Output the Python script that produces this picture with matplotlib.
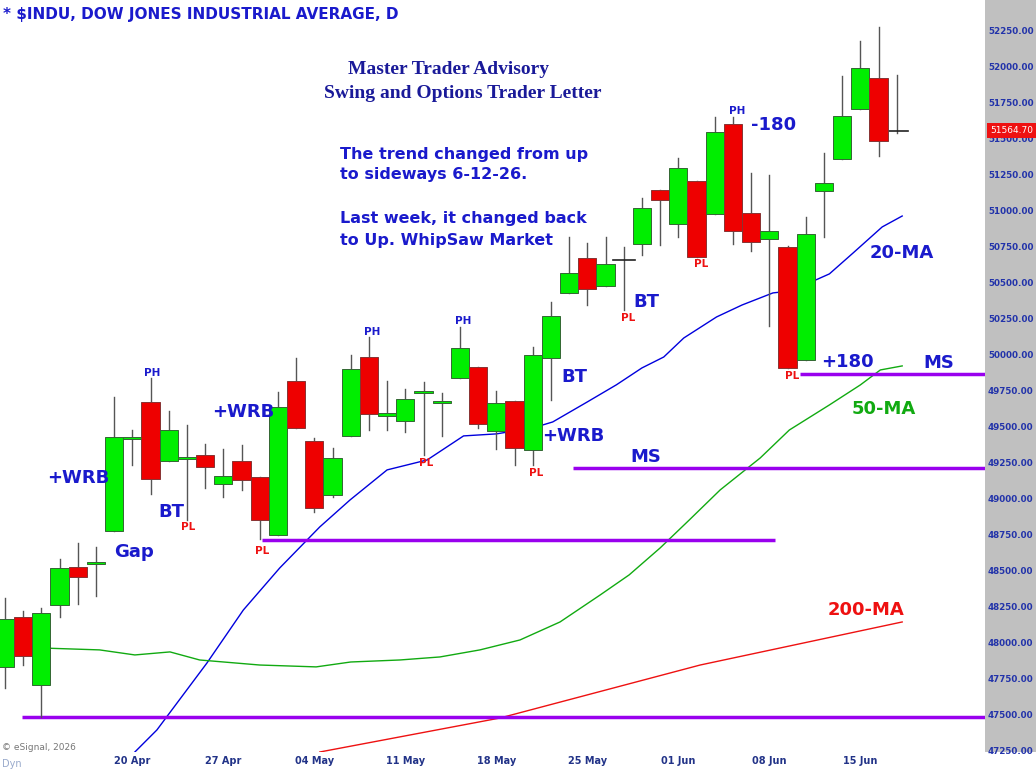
import matplotlib
matplotlib.use("Agg")
import matplotlib.pyplot as plt
from matplotlib.patches import Rectangle

W, H = 1036, 771

# OHLC, one row per trading day (index 0 = 09 Apr)
opens = [47840, 48188, 47716, 48271, 48535, 48556, 48785, 49424, 49681, 49271,
         49285, 49313, 49111, 49271, 49160, 48757, 49827, 49410, 49035, 49445,
         49993, 49584, 49549, 49743, 49674, 49847, 49924, 49479, 49688, 49347,
         49986, 50438, 50681, 50486, 50660, 50778, 51153, 50917, 51215, 50986,
         51611, 50993, 50813, 50757, 49972, 51146, 51368, 51715, 51931, 51565]
highs = [48320, 48229, 48250, 48590, 48702, 48674, 49715, 49486, 49847, 49618,
         49521, 49389, 49354, 49382, 49160, 49750, 49986, 49431, 49361, 50007,
         50132, 49827, 49771, 49820, 49743, 50201, 49924, 49757, 49688, 50063,
         50375, 50827, 50785, 50827, 50757, 51097, 51153, 51375, 51215, 51660,
         51660, 51271, 51257, 50764, 50965, 51410, 51944, 52188, 52285, 51951]
lows = [47695, 47854, 47493, 48188, 48278, 48334, 48785, 49243, 49042, 49271,
        48861, 49084, 49021, 49070, 48729, 48757, 49500, 48917, 49021, 49445,
        49486, 49486, 49472, 49313, 49445, 49847, 49500, 49354, 49243, 49243,
        49695, 50438, 50354, 50486, 50320, 50702, 50771, 50827, 50688, 50986,
        50778, 50729, 50209, 49917, 49972, 50827, 51368, 51715, 51389, 51549]
closes = [48174, 47917, 48215, 48528, 48466, 48570, 49438, 49438, 49146, 49486,
          49299, 49229, 49167, 49139, 48861, 49646, 49500, 48945, 49292, 49910,
          49597, 49604, 49701, 49750, 49681, 50056, 49528, 49674, 49361, 50007,
          50278, 50577, 50465, 50639, 50667, 51028, 51083, 51306, 50688, 51556,
          50868, 50792, 50868, 49917, 50847, 51201, 51667, 52000, 51493, 51565]
dark_days = [34, 49]  # neutral doji bars

ma20_x = [7.14, 8.35, 11.1, 13.1, 15.1, 17.3, 18.96, 21, 23.2, 25.2, 27, 29, 30.1, 32,
          33.6, 35, 36.2, 37.3, 39.1, 40.5, 42.2, 43.2, 45.3, 46.6, 48.2, 49.3]
ma20_y = [47250, 47403, 47868, 48236, 48528, 48813, 49000, 49209, 49278, 49445, 49459,
          49500, 49542, 49681, 49800, 49917, 49993, 50125, 50271, 50354, 50438, 50452,
          50570, 50715, 50896, 50972]
ma50_x = [2.09, 5.2, 7.14, 9.07, 10.7, 14.0, 17.1, 19.0, 21.7, 23.9, 26.1, 28.3, 30.5,
          32.7, 34.3, 36.0, 37.6, 39.3, 41.5, 43.1, 45.3, 47.0, 48.1, 49.3]
ma50_y = [47972, 47959, 47924, 47945, 47889, 47854, 47841, 47875, 47889, 47910, 47959,
          48028, 48153, 48340, 48480, 48667, 48861, 49070, 49292, 49486, 49660, 49799,
          49903, 49931]
ma200_x = [17.3, 27.2, 38.2, 49.3]
ma200_y = [47250, 47486, 47854, 48153]

# support / resistance lines: (level, start index, end index)
levels = [(47493, 0.93, 60), (48722, 14.1, 42.3), (49222, 31.2, 60), (49875, 43.7, 60)]

date_pos = [7, 12, 17, 22, 27, 32, 37, 42, 47]
date_lbl = ["20 Apr", "27 Apr", "04 May", "11 May", "18 May", "25 May", "01 Jun", "08 Jun", "15 Jun"]
price_ticks = [47250, 47500, 47750, 48000, 48250, 48500, 48750, 49000, 49250, 49500,
               49750, 50000, 50250, 50500, 50750, 51000, 51250, 51500, 51750, 52000, 52250]
last_price = 51564.70

fig = plt.figure(figsize=(W / 100, H / 100), dpi=100)
ax = fig.add_axes([0, 19 / H, 985 / W, 1 - 19 / H])
ylo, yhi = 47250, 52472
xlo, xhi = -0.27, 53.85
ax.set_xlim(xlo, xhi)
ax.set_ylim(ylo, yhi)
for s in ax.spines.values():
    s.set_visible(False)
ax.set_yticks([])
ax.set_xticks(date_pos)
ax.set_xticklabels(date_lbl, fontsize=7, color="#223388", fontweight="bold")
ax.tick_params(axis="x", length=0, pad=3)

# moving averages
ax.plot(ma20_x, ma20_y, color="#0000dd", lw=1)
ax.plot(ma50_x, ma50_y, color="#11aa11", lw=1)
ax.plot(ma200_x, ma200_y, color="#ee1111", lw=1)
for lv, a, b in levels:
    ax.plot([a, b], [lv, lv], color="#9900ee", lw=2.5, solid_capstyle="butt")

bw = 0.5
for i, (o, h, l, c) in enumerate(zip(opens, highs, lows, closes)):
    if i in dark_days:
        ax.plot([i, i], [l, h], color="#555555", lw=1, zorder=3)
        ax.plot([i - 0.6, i + 0.6], [c, c], color="#222222", lw=1.2, zorder=3)
        continue
    col = "#00ee00" if c >= o else "#ee0000"
    ax.plot([i, i], [l, h], color="#555555", lw=1, zorder=3)
    lo_b, hi_b = min(o, c), max(o, c)
    ax.add_patch(Rectangle((i - bw, lo_b), 2 * bw, max(hi_b - lo_b, 12),
                           facecolor=col, edgecolor="#336633" if c >= o else "#883333",
                           lw=0.7, zorder=4))

# price panel
pax = fig.add_axes([985 / W, 19 / H, 51 / W, 1 - 19 / H], facecolor="#c0c0c0")
pax.set_xlim(0, 1)
pax.set_ylim(ylo, yhi)
pax.set_xticks([])
pax.set_yticks([])
for s in pax.spines.values():
    s.set_visible(False)
for p in price_ticks:
    pax.text(0.06, p, f"{p:.2f}", fontsize=6.3, color="#2233aa", fontweight="bold", va="center")
pax.text(0.1, last_price, f"{last_price:.2f}", fontsize=6.5, color="white", va="center",
         bbox=dict(boxstyle="square,pad=0.3", fc="#ee1111", ec="none"), zorder=5)


def t(x, y, s, **kw):
    fig.text(x / W, 1 - y / H, s, **kw)


blue = "#1a1acc"
t(3, 14, "* $INDU, DOW JONES INDUSTRIAL AVERAGE, D", fontsize=11, color="#1a1acc",
  fontweight="bold", va="center")
t(448, 70, "Master Trader Advisory", fontsize=14, family="Liberation Serif",
  fontweight="bold", color="#1a1a99", ha="center", va="center")
t(463, 94, "Swing and Options Trader Letter", fontsize=14, family="Liberation Serif",
  fontweight="bold", color="#1a1a99", ha="center", va="center")
for y, s in [(154, "The trend changed from up"), (174, "to sideways 6-12-26."),
             (218, "Last week, it changed back"), (240, "to Up. WhipSaw Market")]:
    t(340, y, s, fontsize=11.5, color=blue, fontweight="bold", va="center")

big = [(78, 478, "+WRB", blue), (171, 512, "BT", blue), (134, 552, "Gap", blue),
       (243, 412, "+WRB", blue), (573, 436, "+WRB", blue), (574, 377, "BT", blue),
       (646, 302, "BT", blue), (774, 125, "-180", blue), (847, 362, "+180", blue),
       (902, 253, "20-MA", blue), (884, 409, "50-MA", "#11aa11"), (866, 610, "200-MA", "#ee1111"),
       (646, 457, "MS", blue), (939, 363, "MS", blue)]
for x, y, s, c in big:
    t(x, y, s, fontsize=13, color=c, fontweight="bold", ha="center", va="center")
for x, y in [(152, 373), (372, 332), (463, 321), (737, 111)]:
    t(x, y, "PH", fontsize=7.5, color=blue, fontweight="bold", ha="center", va="center")
for x, y in [(188, 527), (262, 551), (426, 463), (536, 473), (628, 318), (701, 264), (792, 376)]:
    t(x, y, "PL", fontsize=7.5, color="#ee1111", fontweight="bold", ha="center", va="center")
t(2, 748, "© eSignal, 2026", fontsize=6.5, color="#777777", va="center")
t(2, 764, "Dyn", fontsize=7, color="#99aacc", va="center")

fig.savefig("out.png", dpi=100)
